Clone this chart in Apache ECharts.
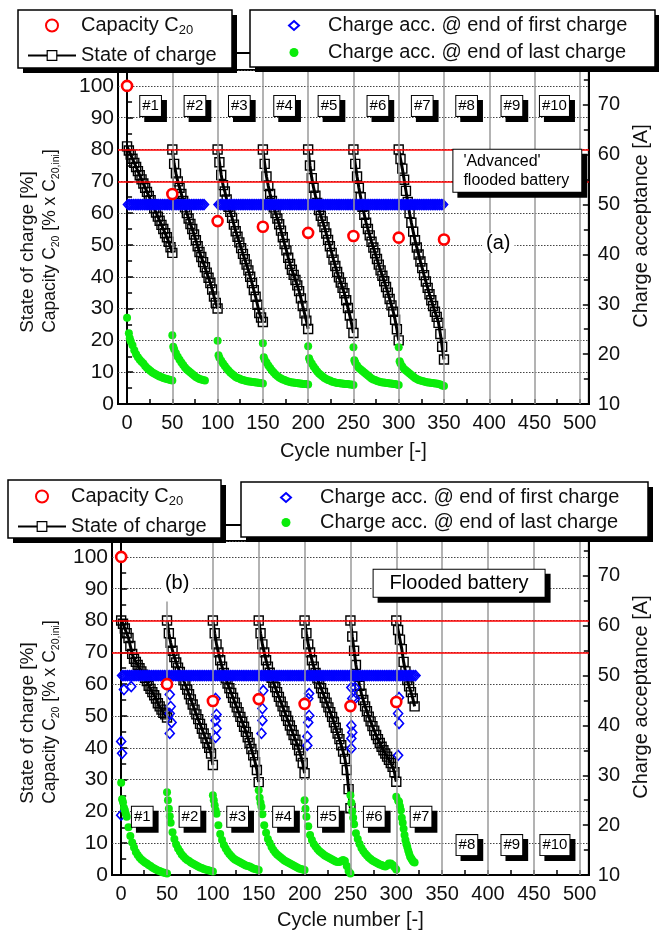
<!DOCTYPE html>
<html>
<head>
<meta charset="utf-8">
<script src="https://cdn.jsdelivr.net/npm/echarts@6/dist/echarts.min.js"></script>
<style>
html, body { margin: 0; padding: 0; background: #fff; }
#chart { width: 659px; height: 939px; }
</style>
</head>
<body>
<div id="chart"></div>
<script>
const FONT = "'Liberation Sans', Arial, Helvetica, sans-serif"

// cycle where each test unit (#1..#7) starts, SOC read every 2 cycles
const unitStarts = [0, 50, 100, 150, 200, 250, 300]

// capacity C20 [% of initial]
const capCyclesA = [0, 50, 100, 150, 200, 250, 300, 350]
const capValuesA = [100, 66, 57.5, 55.7, 53.8, 52.8, 52.3, 51.7]
const capCyclesB = [0, 50, 100, 150, 200, 250, 300]
const capValuesB = [100, 60, 54.7, 55.3, 53.8, 53.1, 54.4]

// state of charge per unit, (a) advanced flooded battery
const socA = [
  [81, 79.7, 78.4, 77.1, 75.8, 74.5, 73.2, 71.9, 70.6, 69.3, 68, 66.7, 65.4, 64.1, 62.8, 61.5, 60.2, 58.9, 57.6, 56.3, 55, 53.7, 52.4, 51, 49.3, 47.5],
  [80, 75.5, 72.5, 70, 68, 66, 63.8, 61.8, 60, 58.3, 56.6, 55, 53.3, 51.5, 49.6, 47.8, 46.2, 44.6, 43, 41.3, 39.7, 38, 36, 33.8, 31.8, 30],
  [80, 76, 72, 68.8, 66.8, 64.3, 62, 60.4, 58.5, 56.4, 54.3, 52.6, 50.8, 49, 47.2, 45.5, 43.8, 42, 40, 38, 35.8, 33.7, 31.2, 28.6, 27.2, 25.8],
  [80, 75.5, 71.5, 68.5, 66, 63.8, 61.8, 60, 58.3, 56.5, 54.5, 52.4, 50.3, 48.3, 46, 44, 42.2, 40.6, 39, 37.3, 35.5, 33.2, 30.8, 28.5, 26.2, 23.6],
  [80, 75, 71, 68, 65.5, 63.2, 61, 59.2, 57.4, 55.6, 53.6, 51.6, 49.6, 47.5, 45.4, 43.4, 41.5, 39.8, 38.2, 36.5, 34.8, 32.6, 30.2, 27.8, 25.2, 22.3],
  [80, 75.5, 71.5, 68, 65, 62, 59.5, 57, 55, 53, 51, 49.2, 47.4, 45.6, 43.8, 42, 40.3, 38.6, 36.8, 35, 33, 31, 29, 26.5, 23.5, 20],
  [80, 77, 74, 70.5, 67, 63.5, 60, 57, 54.2, 51.5, 49.2, 47, 44.8, 42.7, 40.5, 38.5, 36.5, 34.5, 32.6, 30.8, 29, 27.4, 25.5, 22, 18, 14]
]
// (b) flooded battery
const socB = [
  [80, 79, 77.5, 76, 74.5, 72, 69.5, 68, 67, 66, 65, 64, 63, 62, 61, 59.5, 58.5, 57.5, 56.5, 55.5, 54, 53, 52, 51, 50.5, 49.5],
  [80, 76, 73, 70.5, 68.5, 66.8, 65.2, 63.8, 62.6, 61.2, 59.8, 58.3, 56.8, 55.2, 53.6, 52, 50.5, 49, 47.5, 46, 44.5, 43, 41.5, 40, 38.2, 34.6],
  [80, 76, 72.5, 70, 67.5, 65.5, 63.5, 61.8, 60.2, 58.7, 57.2, 55.7, 54.2, 52.7, 51.2, 49.7, 48.2, 46.6, 45, 43.3, 41.5, 39.6, 37.6, 35.5, 33, 29.2],
  [80, 76, 72.5, 70, 67.5, 65.5, 63.6, 62, 60.5, 59, 57.5, 56, 54.5, 53, 51.5, 50, 48.5, 47, 45.5, 44, 42.5, 41, 39.2, 37.3, 35.2, 32],
  [80, 76, 72.5, 70, 67.5, 65.5, 63.5, 61.8, 60.2, 58.7, 57.2, 55.7, 54.2, 52.7, 51.2, 49.7, 48, 46.3, 44.5, 42.7, 40.8, 38.8, 36.5, 33, 27, 21],
  [80, 75, 70.5, 66, 62.5, 59.5, 57, 55, 53, 51.5, 49.8, 48.3, 46.8, 45.4, 44, 42.7, 41.5, 40.3, 39.2, 38.2, 37.2, 36.2, 35.2, 34, 32.3, 29.3],
  [80, 77, 74, 71, 67, 64, 61.3, 59.3, 57.5, 55.5, 53]
]

// charge acceptance at end of first charge [A], every 2 cycles from the run start
const firstStartsA = [1, 101]
const firstAccA = [
  [50, 50, 50, 50, 50, 50, 50, 50, 50, 50,
   50, 50, 50, 50, 50, 50, 50, 50, 50, 50,
   50, 50, 50, 50, 50, 50, 50, 50, 50, 50,
   50, 50, 50, 50, 50, 50, 50, 50, 50, 50,
   50, 50, 50],
  [50, 50, 50, 50, 50, 50, 50, 50, 50, 50,
   50, 50, 50, 50, 50, 50, 50, 50, 50, 50,
   50, 50, 50, 50, 50, 50, 50, 50, 50, 50,
   50, 50, 50, 50, 50, 50, 50, 50, 50, 50,
   50, 50, 50, 50, 50, 50, 50, 50, 50, 50,
   50, 50, 50, 50, 50, 50, 50, 50, 50, 50,
   50, 50, 50, 50, 50, 50, 50, 50, 50, 50,
   50, 50, 50, 50, 50, 50, 50, 50, 50, 50,
   50, 50, 50, 50, 50, 50, 50, 50, 50, 50,
   50, 50, 50, 50, 50, 50, 50, 50, 50, 50,
   50, 50, 50, 50, 50, 50, 50, 50, 50, 50,
   50, 50, 50, 50, 50, 50, 50, 50, 50, 50,
   50, 50, 50, 50, 50]
]
const firstExtraA = []
const firstStartsB = [1]
const firstAccB = [
  [50, 50, 50, 50, 50, 50, 50, 50, 50, 50,
   50, 50, 50, 50, 50, 50, 50, 50, 50, 50,
   50, 50, 50, 50, 50, 50, 50, 50, 50, 50,
   50, 50, 50, 50, 50, 50, 50, 50, 50, 50,
   50, 50, 50, 50, 50, 50, 50, 50, 50, 50,
   50, 50, 50, 50, 50, 50, 50, 50, 50, 50,
   50, 50, 50, 50, 50, 50, 50, 50, 50, 50,
   50, 50, 50, 50, 50, 50, 50, 50, 50, 50,
   50, 50, 50, 50, 50, 50, 50, 50, 50, 50,
   50, 50, 50, 50, 50, 50, 50, 50, 50, 50,
   50, 50, 50, 50, 50, 50, 50, 50, 50, 50,
   50, 50, 50, 50, 50, 50, 50, 50, 50, 50,
   50, 50, 50, 50, 50, 50, 50, 50, 50, 50,
   50, 50, 50, 50, 50, 50, 50, 50, 50, 50,
   50, 50, 50, 50, 50, 50, 50, 50, 50, 50,
   50, 50, 50, 50, 50, 50, 50, 50, 50, 50,
   50]
]
// scattered low first-charge values of the flooded battery [cycle, A]
const firstExtraB = [
  [0, 36.8], [1, 34.4], [0, 22], [3, 47.2], [11, 47.8],
  [53, 46.2], [54, 43.8], [53, 42.4], [55, 40.6], [53, 38.4],
  [103, 45.4], [104, 42.2], [103, 41], [104, 39.4], [103, 37.6],
  [155, 47], [154, 43.4], [154, 41], [153, 38.4],
  [205, 46.4], [204, 45.4], [205, 42], [204, 40.6], [203, 37.8], [203, 36],
  [251, 47.6], [252, 45.4], [251, 40], [252, 38.6], [251, 37.4], [251, 35.4], [255, 47.6], [255, 45.4],
  [303, 45.6], [302, 42.4], [303, 40.4], [302, 34]
]

// charge acceptance at end of last charge [cycle, A]
const lastAccA = [
  [[0, 27.3], [2, 24.2], [3, 23.2], [4, 22.6], [6, 21.8], [8, 20.8], [10, 20], [12, 19.4], [14, 18.9], [16, 18.5], [18, 18.1], [20, 17.6], [22, 17.2], [24, 16.9], [26, 16.6], [28, 16.3], [30, 16.1], [32, 15.9], [34, 15.7], [36, 15.5], [38, 15.4], [40, 15.2], [42, 15.1], [44, 15], [46, 14.9], [48, 14.8], [50, 14.7]],
  [[50, 23.8], [51, 21.5], [52, 21], [54, 20.2], [56, 19.5], [58, 18.9], [60, 18.3], [62, 17.8], [64, 17.3], [66, 16.9], [68, 16.6], [70, 16.3], [72, 16], [74, 15.7], [76, 15.4], [78, 15.2], [80, 15], [82, 14.9], [84, 14.8], [86, 14.7]],
  [[100, 22.7], [101, 19.8], [102, 19.3], [104, 18.7], [106, 18.1], [108, 17.6], [110, 17.1], [112, 16.7], [114, 16.3], [116, 16], [118, 15.7], [120, 15.4], [122, 15.2], [124, 15.1], [126, 14.9], [128, 14.8], [130, 14.7], [132, 14.6], [134, 14.5], [136, 14.5], [138, 14.4], [140, 14.4], [142, 14.3], [144, 14.3], [146, 14.2], [148, 14.2], [150, 14.1]],
  [[150, 22.2], [151, 19.4], [152, 18.9], [154, 18.3], [156, 17.7], [158, 17.2], [160, 16.7], [162, 16.3], [164, 15.9], [166, 15.6], [168, 15.3], [170, 15.1], [172, 14.9], [174, 14.8], [176, 14.6], [178, 14.5], [180, 14.4], [182, 14.3], [184, 14.3], [186, 14.2], [188, 14.2], [190, 14.1], [192, 14.1], [194, 14], [196, 14], [198, 14], [200, 13.9]],
  [[200, 21.6], [201, 19.2], [202, 18.7], [204, 18.1], [206, 17.5], [208, 17], [210, 16.5], [212, 16.1], [214, 15.8], [216, 15.5], [218, 15.2], [220, 15], [222, 14.8], [224, 14.7], [226, 14.5], [228, 14.4], [230, 14.3], [232, 14.2], [234, 14.2], [236, 14.1], [238, 14.1], [240, 14], [242, 14], [244, 14], [246, 13.9], [248, 13.9], [250, 13.8]],
  [[250, 21.4], [251, 18.8], [252, 18.3], [254, 17.7], [256, 17.2], [258, 16.9], [260, 16.6], [262, 16.3], [264, 16], [266, 15.7], [268, 15.4], [270, 15.1], [272, 14.9], [274, 14.8], [276, 14.6], [278, 14.5], [280, 14.4], [282, 14.3], [284, 14.3], [286, 14.2], [288, 14.2], [290, 14.1], [292, 14.1], [294, 14], [296, 14], [298, 13.9], [300, 13.8]],
  [[300, 21.4], [301, 18.6], [302, 18.1], [304, 17.5], [306, 17], [308, 16.7], [310, 16.4], [312, 16.1], [314, 15.8], [316, 15.5], [318, 15.2], [320, 15], [322, 14.8], [324, 14.7], [326, 14.6], [328, 14.5], [330, 14.4], [332, 14.3], [334, 14.3], [336, 14.2], [338, 14.2], [340, 14.1], [342, 14.1], [344, 14], [346, 13.9], [348, 13.7], [350, 13.6]]
]
const lastAccB = [
  [[0, 28.5], [1, 25.2], [2, 24.6], [3, 23.5], [4, 23], [5, 22.3], [6, 21.7], [8, 19.6], [10, 17.8], [12, 16.5], [14, 15.5], [16, 14.6], [18, 14], [20, 13.5], [22, 13.1], [24, 12.8], [26, 12.5], [28, 12.3], [30, 12], [32, 11.8], [34, 11.5], [36, 11.3], [38, 11.1], [40, 10.9], [42, 10.8], [44, 10.6], [46, 10.5], [48, 10.4], [50, 10.3]],
  [[50, 26.6], [51, 25], [52, 23.3], [53, 21.8], [54, 20.5], [56, 18.6], [58, 17.2], [60, 16.1], [62, 15.3], [64, 14.7], [66, 14.1], [68, 13.7], [70, 13.3], [72, 13], [74, 12.8], [76, 12.5], [78, 12.3], [80, 12.1], [82, 11.9], [84, 11.7], [86, 11.5], [88, 11.4], [90, 11.2], [92, 11.1], [94, 11], [96, 10.9], [98, 10.8], [100, 10.7]],
  [[100, 26], [101, 25], [102, 24], [103, 23], [104, 22.3], [106, 20], [108, 18.2], [110, 17], [112, 16], [114, 15.3], [116, 14.7], [118, 14.2], [120, 13.8], [122, 13.4], [124, 13.1], [126, 12.9], [128, 12.7], [130, 12.5], [132, 12.3], [134, 12.1], [136, 11.9], [138, 11.8], [140, 11.7], [142, 11.5], [144, 11.3], [146, 11.2], [148, 11.1], [150, 11]],
  [[150, 27], [151, 25.5], [152, 24.5], [153, 23.7], [154, 22.2], [156, 20], [158, 18.5], [160, 17.2], [162, 16.4], [164, 15.6], [166, 15], [168, 14.5], [170, 14.1], [172, 13.8], [174, 13.5], [176, 13.2], [178, 12.9], [180, 12.7], [182, 12.5], [184, 12.3], [186, 12.1], [188, 11.9], [190, 11.7], [192, 11.5], [194, 11.3], [196, 11.2], [198, 11.1], [200, 11]],
  [[200, 25], [201, 23.3], [202, 21.7], [204, 19.8], [206, 18], [208, 17], [210, 16.2], [212, 15.7], [214, 15.2], [216, 14.8], [218, 14.5], [220, 14.2], [222, 13.9], [224, 13.7], [226, 13.5], [228, 13.3], [230, 13.1], [232, 12.9], [234, 12.7], [236, 12.6], [238, 12.6], [240, 12.8], [242, 13], [244, 12.8], [246, 11.8], [248, 10.8], [250, 10.3]],
  [[250, 26], [251, 24.5], [252, 22.8], [253, 21.5], [254, 20.2], [256, 18.4], [258, 17.2], [260, 16.2], [262, 15.4], [264, 14.8], [266, 14.3], [268, 13.9], [270, 13.5], [272, 13.2], [274, 12.9], [276, 12.7], [278, 12.5], [280, 12.3], [282, 12.1], [284, 12], [286, 11.8], [288, 11.7], [290, 11.9], [292, 12.3], [294, 12.3], [296, 12], [298, 11.6], [300, 11.1]],
  [[300, 25.7], [302, 24.9], [303, 24.7], [304, 23.8], [305, 23], [306, 21.5], [307, 20.5], [308, 19.3], [309, 18], [310, 17], [311, 16.2], [312, 15.6], [313, 14.9], [314, 14.3], [315, 13.7], [316, 13.4], [317, 13.1], [318, 12.8], [319, 12.6], [320, 12.5]]
]

// axes
const xTicks = [0, 25, 50, 75, 100, 125, 150, 175, 200, 225, 250, 275, 300, 325, 350, 375, 400, 425, 450, 475, 500]
const xLabels = [0, 50, 100, 150, 200, 250, 300, 350, 400, 450, 500]
const cycleLines = [50, 100, 150, 200, 250, 300, 350, 400, 450, 500]
const socLimits = [80, 70]

// unit tags
const tagNames = ['#1', '#2', '#3', '#4', '#5', '#6', '#7', '#8', '#9', '#10']
const tagCyclesA = [26, 75, 124, 174, 223, 277, 326, 375, 425, 472]
const tagLevelsA = [93.7, 93.7, 93.7, 93.7, 93.7, 93.7, 93.7, 93.7, 93.7, 93.7]
const tagCyclesB = [23, 75, 127, 177, 226, 276, 327, 377, 426, 473]
const tagLevelsB = [18.3, 18.3, 18.3, 18.3, 18.3, 18.3, 18.3, 9.4, 9.4, 9.4]

const run = (start, vals) => vals.map((v, i) => [start + i * 2, v])
const pairs = (xs, ys) => xs.map((x, i) => [x, ys[i]])

const labelBase = { show: true, position: 'inside', fontFamily: FONT, color: '#000', opacity: 1, formatter: p => p.name }

function noteSeries(k, items, label, withShadow) {
  const out = []
  const base = { type: 'scatter', xAxisIndex: k, yAxisIndex: 2 * k, symbolSize: 1, silent: true,
    itemStyle: { color: 'rgba(0,0,0,0)', opacity: 1 }, animation: false }
  if (withShadow) {
    out.push({ ...base, z: 8, data: items,
      label: { ...labelBase, ...label, offset: [5, 5], backgroundColor: '#000', borderColor: '#000', color: '#000' } })
  }
  out.push({ ...base, z: 9, data: items, label: { ...labelBase, ...label } })
  return out
}

function chartSeries(k, d) {
  const out = []
  const xi = k, yl = 2 * k, yr = 2 * k + 1
  d.soc.forEach((vals, i) => out.push({
    name: 'State of charge', type: 'line', xAxisIndex: xi, yAxisIndex: yl,
    data: run(unitStarts[i], vals), symbol: 'rect', symbolSize: 9, showAllSymbol: true,
    lineStyle: { color: '#000', width: 3 },
    itemStyle: { color: 'rgba(255,255,255,0)', borderColor: '#000', borderWidth: 1.4 }, z: 3, animation: false
  }))
  out.push({
    name: 'Charge acc. @ end of first charge', type: 'scatter', xAxisIndex: xi, yAxisIndex: yr,
    data: d.firstAcc.flatMap((vals, i) => run(d.firstStarts[i], vals)).concat(d.firstExtra),
    symbol: 'diamond', symbolSize: [9, 10],
    itemStyle: { color: 'rgba(255,255,255,0)', borderColor: '#0000ff', borderWidth: 1.6, opacity: 1 }, z: 4, animation: false
  })
  out.push({
    name: 'Charge acc. @ end of last charge', type: 'scatter', xAxisIndex: xi, yAxisIndex: yr,
    data: d.lastAcc.flat(), symbol: 'circle', symbolSize: 8,
    itemStyle: { color: '#0aec0a', opacity: 1 }, z: 4, animation: false
  })
  out.push({
    name: 'Capacity C20', type: 'scatter', xAxisIndex: xi, yAxisIndex: yl,
    data: d.cap, symbol: 'circle', symbolSize: 10,
    itemStyle: { color: '#fff', borderColor: '#ff0000', borderWidth: 2.6, opacity: 1 }, z: 6, animation: false
  })
  // cycle separators and the SOC window
  out.push({
    type: 'line', xAxisIndex: xi, yAxisIndex: yl, data: [[-100, -100]], showSymbol: false, z: 5, silent: true,
    animation: false,
    markLine: {
      silent: true, symbol: 'none', animation: false, label: { show: false },
      data: d.cycleMarks.concat(socLimits.map(v => ({ yAxis: v, lineStyle: { color: '#ff0000', width: 1.5, type: 'solid' } })))
    }
  })
  const tags = tagNames.map((n, i) => ({ name: n, value: [d.tagCycles[i], d.tagLevels[i]] }))
  out.push(...noteSeries(k, tags, { fontSize: 15, lineHeight: 17, padding: [2, 2, 1, 2],
    backgroundColor: '#fff', borderColor: '#000', borderWidth: 1 }, true))
  return out
}

const grayLine = { color: '#9a9a9a', width: 1.5, type: 'solid' }
const marksA = cycleLines.map(c => ({ xAxis: c, lineStyle: grayLine }))
const marksB = cycleLines.slice(1).map(c => ({ xAxis: c, lineStyle: grayLine }))
  .concat([[{ coord: [50, 0], lineStyle: grayLine }, { coord: [50, 86] }]])

const series = [].concat(
  chartSeries(0, { soc: socA, firstStarts: firstStartsA, firstAcc: firstAccA, firstExtra: firstExtraA,
    lastAcc: lastAccA, cap: pairs(capCyclesA, capValuesA), cycleMarks: marksA,
    tagCycles: tagCyclesA, tagLevels: tagLevelsA }),
  chartSeries(1, { soc: socB, firstStarts: firstStartsB, firstAcc: firstAccB, firstExtra: firstExtraB,
    lastAcc: lastAccB, cap: pairs(capCyclesB, capValuesB), cycleMarks: marksB,
    tagCycles: tagCyclesB, tagLevels: tagLevelsB }),
  noteSeries(0, [{ name: "{l|'Advanced'}\n{l|flooded battery}", value: [431, 73.3] }],
    { fontSize: 16, lineHeight: 19, padding: [2, 12, 2, 10], backgroundColor: '#fff', borderColor: '#000', borderWidth: 1,
      rich: { l: { align: 'left', fontSize: 16, lineHeight: 19, fontFamily: FONT } } }, true),
  noteSeries(0, [{ name: '(a)', value: [410, 50.6] }], { fontSize: 20, padding: [0, 4], backgroundColor: '#fff' }, false),
  noteSeries(1, [{ name: 'Flooded battery', value: [368.5, 91.7] }],
    { fontSize: 20, lineHeight: 23, padding: [2, 16, 2, 16], backgroundColor: '#fff', borderColor: '#000', borderWidth: 1 }, true),
  noteSeries(1, [{ name: '(b)', value: [61, 91.8] }], { fontSize: 20, padding: [0, 4], backgroundColor: '#fff' }, false)
)

const axisLine = { lineStyle: { color: '#000', width: 2 } }

function xAxisFor(k) {
  return {
    type: 'value', gridIndex: k, min: -10, max: 510,
    axisLine, splitLine: { show: false },
    axisTick: { inside: true, length: 5, customValues: xTicks, lineStyle: { color: '#000', width: 1.5 } },
    axisLabel: { customValues: xLabels, fontSize: 20, color: '#111', margin: 9, fontFamily: FONT },
    name: 'Cycle number [-]', nameLocation: 'middle', nameGap: k === 0 ? 37 : 35,
    nameTextStyle: { fontSize: 20, color: '#111', fontFamily: FONT }
  }
}
function leftAxisFor(k, gap) {
  return {
    type: 'value', gridIndex: k, position: 'left', min: 0, max: 105, interval: 10,
    axisLine,
    axisTick: { inside: true, length: 6, lineStyle: { color: '#000', width: 1.5 } },
    minorTick: { show: true, splitNumber: 2, length: 5, lineStyle: { color: '#000', width: 1.5 } },
    axisLabel: { fontSize: 21, color: '#111', margin: 4, showMaxLabel: false, fontFamily: FONT },
    splitLine: { show: true, lineStyle: { color: '#444', width: 1, type: [1.5, 1.5] } },
    name: '{a|State of charge [%]}\n{b|Capacity C}{s|20}{b| [% x C}{s|20,ini}{b|]}',
    nameLocation: 'middle', nameRotate: 90, nameGap: gap,
    nameTextStyle: { color: '#111', padding: [0, 8, 0, 0], rich: {
      a: { align: 'left', fontSize: 19, lineHeight: 23, color: '#111', fontFamily: FONT },
      b: { align: 'left', fontSize: 17.5, lineHeight: 23, color: '#111', fontFamily: FONT },
      s: { align: 'left', fontSize: 10.5, lineHeight: 6, verticalAlign: 'bottom', color: '#111', fontFamily: FONT } } }
  }
}
function rightAxisFor(k) {
  return {
    type: 'value', gridIndex: k, position: 'right', min: 10, max: 77, interval: 10,
    axisLine,
    axisTick: { inside: true, length: 6, lineStyle: { color: '#000', width: 1.5 } },
    minorTick: { show: true, splitNumber: 2, length: 5, lineStyle: { color: '#000', width: 1.5 } },
    axisLabel: { fontSize: 20, color: '#111', margin: 9, showMaxLabel: false, fontFamily: FONT },
    splitLine: { show: false },
    name: 'Charge acceptance [A]', nameLocation: 'middle', nameRotate: 90, nameGap: 35,
    nameTextStyle: { fontSize: 20, color: '#111', padding: [0, 0, 0, 22], fontFamily: FONT }
  }
}

const rich = { s: { fontSize: 13, lineHeight: 6, verticalAlign: 'bottom', fontFamily: FONT, color: '#111' } }
function legendAt(left, top, names, gap, itemWidth, itemHeight, textPad) {
  return {
    orient: 'vertical', left, top, padding: 0, itemGap: gap, itemWidth, itemHeight,
    data: names, selectedMode: false, z: 60, symbolKeepAspect: true,
    formatter: n => n === 'Capacity C20' ? 'Capacity C{s|20}' : n,
    textStyle: { fontSize: 20, color: '#111', lineHeight: 23, fontFamily: FONT, padding: [0, 0, 0, textPad], rich }
  }
}
const leftNames = ['Capacity C20', { name: 'State of charge', itemStyle: { color: '#fff', borderWidth: 1.2 }, lineStyle: { width: 2 } }]
const rightNames = [{ name: 'Charge acc. @ end of first charge', icon: 'diamond' },
  { name: 'Charge acc. @ end of last charge', icon: 'circle' }]

// legend frames [x, y, w, h] with hard drop shadow
const frames = [[18, 10, 214, 58], [250, 10, 405, 57], [8, 480, 213, 58], [241, 482, 407, 55]]
const graphic = frames.flatMap(f => [
  { type: 'rect', z: 50, shape: { x: f[0] + 5, y: f[1] + 5, width: f[2], height: f[3] }, style: { fill: '#000' } },
  { type: 'rect', z: 51, shape: { x: f[0], y: f[1], width: f[2], height: f[3] },
    style: { fill: '#fff', stroke: '#000', lineWidth: 1.5 } }
]).concat([
  { type: 'line', z: 49, shape: { x1: 232, y1: 53, x2: 250, y2: 53 }, style: { stroke: '#000', lineWidth: 2 } },
  { type: 'line', z: 49, shape: { x1: 221, y1: 525, x2: 241, y2: 525 }, style: { stroke: '#000', lineWidth: 2 } }
])

const myChart = echarts.init(document.getElementById('chart'))
myChart.setOption({
  animation: false,
  backgroundColor: '#fff',
  textStyle: { fontFamily: FONT },
  grid: [
    { left: 118, top: 70, width: 479, height: 334, show: true, borderColor: '#000', borderWidth: 2 },
    { left: 112, top: 541, width: 479, height: 334, show: true, borderColor: '#000', borderWidth: 2 }
  ],
  xAxis: [xAxisFor(0), xAxisFor(1)],
  yAxis: [leftAxisFor(0, 56), rightAxisFor(0), leftAxisFor(1, 50), rightAxisFor(1)],
  legend: [
    legendAt(27, 14, leftNames, 7, 48, 12, 0),
    legendAt(288, 14, rightNames, 4, 10, 9, 24),
    legendAt(17, 485, leftNames, 7, 48, 12, 0),
    legendAt(280, 486, rightNames, 2, 10, 9, 24)
  ],
  graphic,
  series
})
</script>
</body>
</html>
